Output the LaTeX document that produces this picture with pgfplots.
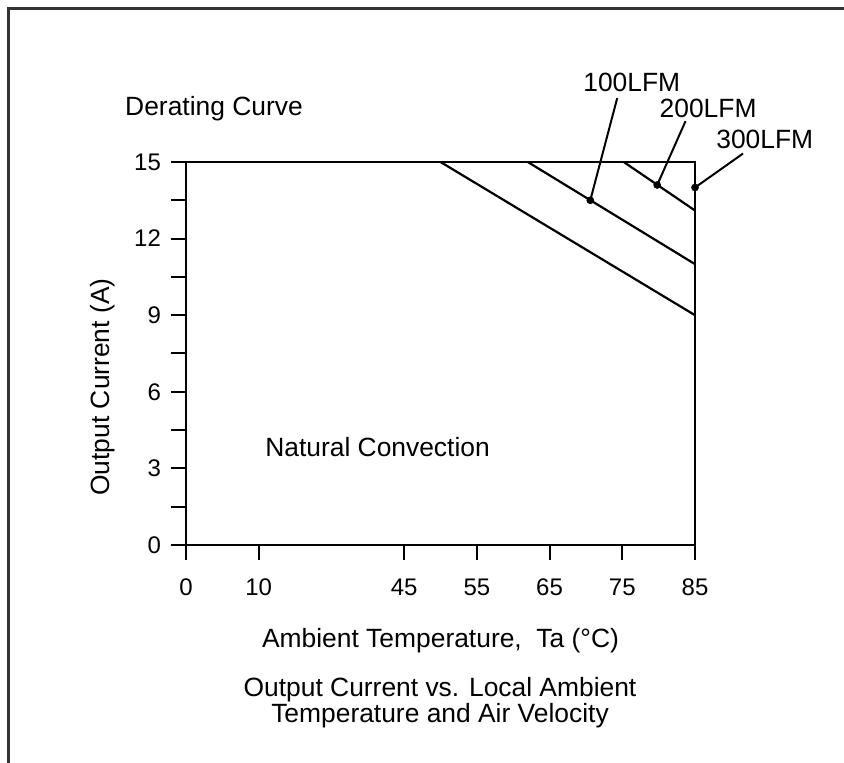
\documentclass[border=0pt]{standalone}
\usepackage{pgfplots}
\pgfplotsset{compat=1.18}
\usepackage{fontspec}
\setmainfont{Liberation Sans}

\newcommand{\lbl}{\fontsize{13.2}{15.8}\selectfont}

\begin{document}
\begin{tikzpicture}
% page = 844 x 763 px at 0.5pt per px, axis origin at px (186,545)
\useasboundingbox (-93pt,-109pt) rectangle (329pt,272.5pt);
\draw[line width=1.25pt, black!80] (-88.75pt,-120pt) -- (-88.75pt,268.25pt) -- (340pt,268.25pt);
\begin{axis}[
  at={(0,0)}, anchor=south west,
  scale only axis, width=254.5pt, height=191.5pt,
  % broken temperature scale: 0-10, 10-45 (double step), then 10 deg steps
  x coord trafo/.code={\pgfmathparse{#1<=10 ? #1/10 : (#1<=45 ? 1+(#1-10)/17.5 : 3+(#1-45)/10)}},
  xmin=0, xmax=85, ymin=0, ymax=15,
  xtick={0,10,45,55,65,75,85},
  xticklabels={0,10,45,55,65,75,85},
  ytick={0,3,...,15},
  minor ytick={1.5,4.5,...,13.5},
  tick pos=left, tick align=outside,
  major tick length=7.5pt, minor tick length=7.5pt,
  every tick/.style={black, line width=1pt},
  axis line style={line width=1.1pt},
  ticklabel style={font=\fontsize{12}{14}\selectfont},
  xticklabel style={yshift=-6pt},
  yticklabel style={xshift=-1.5pt},
  /pgf/number format/assume math mode=true,
  xlabel={Ambient Temperature,\ \ Ta (°C)},
  xlabel style={font=\lbl, at={(axis description cs:0.5,0)}, anchor=base, yshift=-51.5pt},
  ylabel={Output Current (A)},
  ylabel style={font=\lbl, at={(axis description cs:0,0.4125)}, anchor=center, yshift=41.5pt},
  clip=false,
]
% derating lines
\addplot[black, line width=1.1pt] coordinates {(50,15) (85,9)};
\addplot[black, line width=1.1pt] coordinates {(62,15) (85,11)};
\addplot[black, line width=1.1pt] coordinates {(75.2,15) (85,13.1)};
% leaders
\addplot[black, line width=1pt] coordinates {(70.6,13.5) (74.3,17.5)};
\addplot[black, line width=1pt] coordinates {(79.8,14.1) (83.7,16.6)};
\addplot[black, line width=1pt] coordinates {(85,14) (91.6,15.33)};
\addplot[only marks, mark=*, mark size=1.7pt, black] coordinates {(70.6,13.5) (79.8,14.1) (85,14)};
\node[font=\lbl, anchor=base] at (axis cs:76.3,17.78) {100LFM};
\node[font=\lbl, anchor=base] at (axis cs:86.8,16.76) {200LFM};
\node[font=\lbl, anchor=base] at (axis cs:94.6,15.53) {300LFM};
\node[font=\lbl, anchor=base] at (axis cs:3.85,16.83) {Derating Curve};
\node[font=\lbl, anchor=base] at (axis cs:38.6,3.48) {Natural Convection};
\end{axis}
\node[font=\lbl, anchor=base] at (127pt,-75.85pt) {Output Current vs. Local Ambient};
\node[font=\lbl, anchor=base] at (127pt,-88.85pt) {Temperature and Air Velocity};
\end{tikzpicture}
\end{document}
